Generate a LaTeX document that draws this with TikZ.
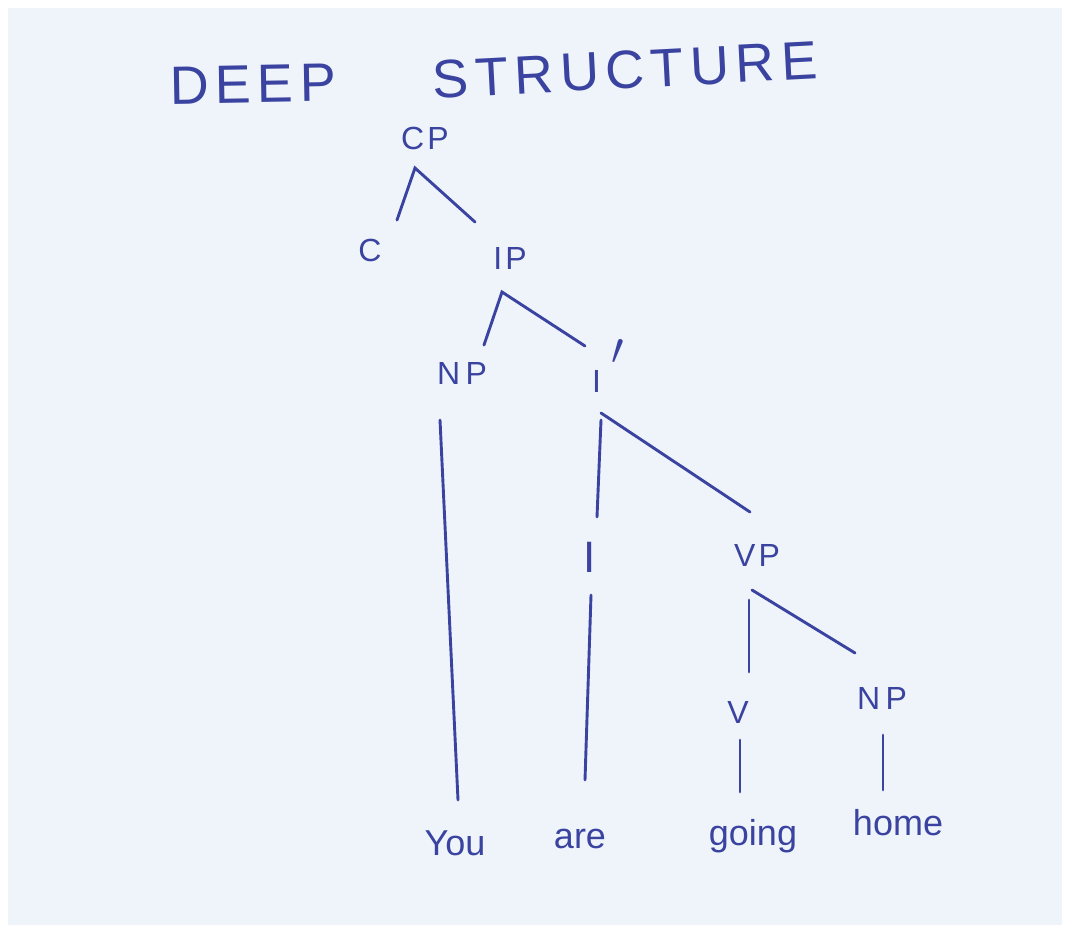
\documentclass[tikz,border=0pt]{standalone}
\usepackage{fontspec}
\setmainfont{Liberation Sans}
\newfontfamily\handtitle[LetterSpace=12]{Liberation Sans}
\newfontfamily\handlab[LetterSpace=10]{Liberation Sans}
\usetikzlibrary{calc}
\definecolor{ink}{RGB}{58,68,160}
\definecolor{paper}{RGB}{239,244,251}
\tikzset{
  lab/.style={text=ink, font=\handlab\fontsize{32}{32}\selectfont, inner sep=0pt},
  word/.style={text=ink, font=\fontsize{36}{36}\selectfont, inner sep=0pt, anchor=base},
  ttl/.style={text=ink, font=\handtitle\fontsize{54}{54}\selectfont, inner sep=0pt},
  branch/.style={draw=ink, line width=2.9pt, line cap=round},
}
\begin{document}
\begin{tikzpicture}[x=1pt,y=-1pt]
\useasboundingbox (0,0) rectangle (1065,930);
\fill[white] (0,0) rectangle (1065,930);
\fill[paper] (8,8) rectangle (1062,925);

% title
\node[ttl, rotate=1] (t1) at (253,84) {DEEP};
\node[ttl, rotate=3] (t2) at (625,70) {STRUCTURE};

% labels
\node[lab] (cp) at (425,138) {CP};
\node[lab] (c) at (370,250) {C};
\node[lab] (ip) at (510,258) {IP};
\node[lab] (np) at (462,373) {N\,P};
\node[lab, anchor=base west] (ibar) at (592,392) {I\kern10pt\raisebox{28pt}{\scalebox{1.8}{$\prime$}}};
\node[lab, font=\fontsize{44}{44}\selectfont] (i) at (590,557) {I};
\node[lab] (vp) at (757,555) {VP};
\node[lab] (v) at (738,712) {V};
\node[lab] (np2) at (882,698) {N\,P};

% words
\node[word] (you) at (455,855) {You};
\node[word] (are) at (580,848) {are};
\node[word] (going) at (753,845) {going};
\node[word] (home) at (898,835) {home};

% branches
\coordinate (cpapex) at ($(cp)+(-10,30)$);
\draw[branch] ($(c)+(27,-30)$) -- (cpapex) -- ($(ip)+(-35,-36)$);
\coordinate (ipapex) at ($(ip)+(-8,34)$);
\draw[branch] ($(np)+(22,-28)$) -- (ipapex) -- ($(ibar.base west)+(-7,-46)$);
\draw[branch] ($(np)+(-22,47)$) -- ($(you.base)+(3,-55)$);
\draw[branch] ($(ibar.base west)+(9,28)$) -- ($(i)+(7,-40)$);
\draw[branch] ($(ibar.base west)+(9,21)$) -- ($(vp)+(-7,-43)$);
\draw[branch] ($(i)+(1,38)$) -- ($(are.base)+(5,-68)$);
\draw[branch] ($(vp)+(-8,45)$) -- ($(v)+(11,-40)$);
\draw[branch] ($(vp)+(-5,35)$) -- ($(np2)+(-27,-45)$);
\draw[branch] ($(v)+(2,28)$) -- ($(going.base)+(-13,-53)$);
\draw[branch] ($(np2)+(1,37)$) -- ($(home.base)+(-15,-45)$);
\end{tikzpicture}
\end{document}
